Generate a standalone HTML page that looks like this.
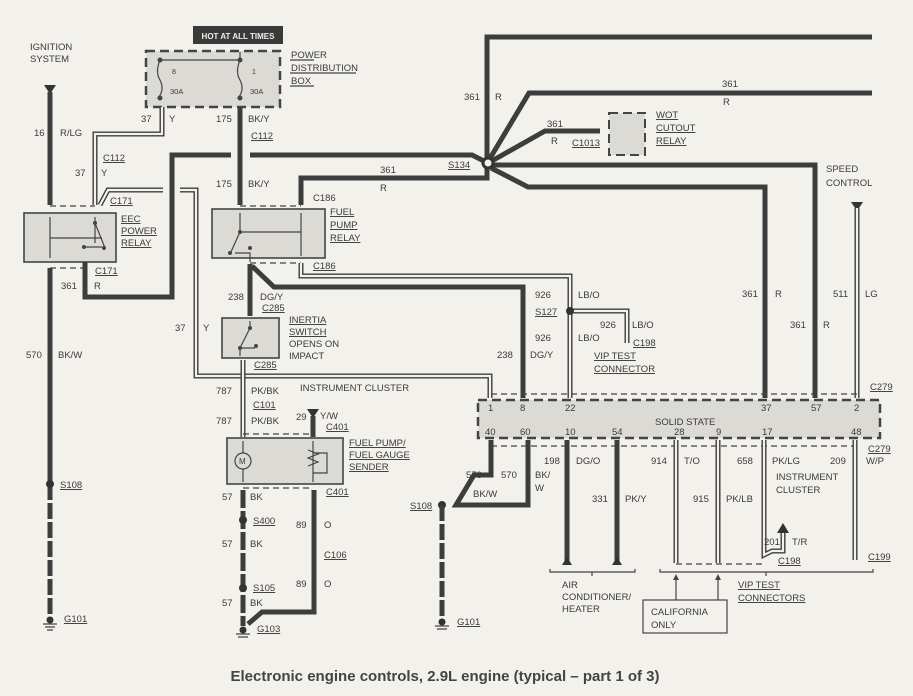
<!DOCTYPE html>
<html><head><meta charset="utf-8"><style>
html,body{margin:0;padding:0;background:#f3f1ec;}
svg{display:block}
text{font-family:"Liberation Sans",sans-serif;font-size:9.5px;fill:#3a3a3a;}
.w{fill:none;stroke:#3d3d3d;stroke-width:5;stroke-linejoin:miter}
.t{fill:none;stroke:#3d3d3d;stroke-width:5}
.ti{fill:none;stroke:#f3f1ec;stroke-width:2.2}
.ln{fill:none;stroke:#444;stroke-width:1.2}
.dash{fill:none;stroke:#444;stroke-width:1.2;stroke-dasharray:6 4}
.box{fill:#dcdad5;stroke:#444;stroke-width:1.6}
.dbox{fill:#dcdad5;stroke:#444;stroke-width:2.5;stroke-dasharray:9 5}
.u{text-decoration:underline}
</style></head><body>
<svg width="913" height="696" viewBox="0 0 913 696" xmlns="http://www.w3.org/2000/svg">
<rect x="193" y="26" width="90" height="18" fill="#3a3a3a"/>
<text x="238" y="39" text-anchor="middle" style="fill:#eee;font-size:8px;font-weight:bold">HOT AT ALL TIMES</text>
<rect class="dbox" x="146" y="51" width="134" height="56"/>
<path class="ln" d="M160 60 L240 60 M160 60 q-5 12 0 20 q5 10 -2 18 L160 100 M240 52 L240 60 q-5 12 0 20 q5 10 -2 18 L240 100"/>
<circle cx="160" cy="60" r="2.5" fill="#444"/><circle cx="240" cy="60" r="2.5" fill="#444"/>
<circle cx="160" cy="98" r="2.5" fill="#444"/><circle cx="240" cy="98" r="2.5" fill="#444"/>
<text x="172" y="74" style="font-size:7px">8</text><text x="252" y="74" style="font-size:7px">1</text>
<text x="170" y="94" style="font-size:7.5px">30A</text><text x="250" y="94" style="font-size:7.5px">30A</text>
<text x="291" y="58">POWER</text><text x="291" y="71">DISTRIBUTION</text><text x="291" y="84">BOX</text>
<path class="ln" d="M290 60h24 M290 73h66 M290 86h24"/>
<text x="30" y="50">IGNITION</text><text x="30" y="62">SYSTEM</text>

<path d="M44 85h12l-6 9z" fill="#333"/>
<path class="w" d="M50 92V205"/>
<text x="34" y="136">16</text><text x="60" y="136">R/LG</text>
<path class="t" d="M162 107V134H95V205"/><path class="ti" d="M162 107V134H95V205"/>
<text x="141" y="122">37</text><text x="169" y="122">Y</text>
<text x="103" y="161" class="u">C112</text>
<text x="75" y="176">37</text><text x="101" y="176">Y</text>
<path class="t" d="M100 205L108 190H163"/><path class="ti" d="M100 205L108 190H163"/>
<path class="t" d="M180 190H196V376H490V398"/><path class="ti" d="M180 190H196V376H490V398"/>
<text x="175" y="331">37</text><text x="203" y="331">Y</text>
<text x="300" y="391">INSTRUMENT CLUSTER</text>
<path class="dash" d="M50 206H95"/>
<rect class="box" x="24" y="213" width="92" height="49"/>
<path class="ln" d="M50 217V258 M95 217V243 M50 238h52 M95 223l10 25 M82 247h20"/>
<circle cx="95" cy="223" r="2" fill="#444"/><circle cx="104" cy="248" r="2" fill="#444"/><circle cx="84" cy="247" r="2" fill="#444"/>
<text x="110" y="204" class="u">C171</text>
<text x="121" y="222" class="u">EEC</text><text x="121" y="234" class="u">POWER</text><text x="121" y="246" class="u">RELAY</text>
<path class="dash" d="M50 268H85"/>
<text x="95" y="274" class="u">C171</text>
<path class="w" d="M50 268V484"/>
<path class="w" d="M50 484V618" stroke-dasharray="16 3"/>
<circle cx="50" cy="484" r="4" fill="#333"/>
<text x="60" y="488" class="u">S108</text>
<path class="ln" d="M43 624h14M45 627h10M47 630h6"/><circle cx="50" cy="620" r="3.5" fill="#333"/>
<text x="64" y="622" class="u">G101</text>
<text x="26" y="358">570</text><text x="58" y="358">BK/W</text>
<path class="w" d="M85 262V297H172V155H231 M250 155H472L486 162"/>
<text x="61" y="289">361</text><text x="94" y="289">R</text>
<path class="w" d="M240 107V205"/>
<text x="216" y="122">175</text><text x="248" y="122">BK/Y</text>
<text x="251" y="139" class="u">C112</text>
<text x="216" y="187">175</text><text x="248" y="187">BK/Y</text>
<path class="w" d="M301 205V178H487V165"/>
<text x="380" y="173">361</text><text x="380" y="191">R</text>
<text x="313" y="201">C186</text>
<path class="dash" d="M240 206H301"/>
<rect class="box" x="212" y="209" width="113" height="49"/>
<path class="ln" d="M240 213V232l-10 22 M240 232h61 M301 213V256 M235 253h15V262"/>
<circle cx="240" cy="232" r="2" fill="#444"/><circle cx="230" cy="253" r="2" fill="#444"/><circle cx="250" cy="248" r="2" fill="#444"/>
<text x="330" y="215" class="u">FUEL</text><text x="330" y="228" class="u">PUMP</text><text x="330" y="241" class="u">RELAY</text>
<path class="dash" d="M250 263H301"/>
<text x="313" y="269" class="u">C186</text>
<path class="w" d="M250 264V316 M252 266L274 287H523V398"/>
<path class="t" d="M301 263V276H570V398"/><path class="ti" d="M301 263V276H570V398"/>
<path class="t" d="M570 311H627V343"/><path class="ti" d="M570 311H627V343"/>
<circle cx="570" cy="311" r="4" fill="#333"/>
<text x="228" y="300">238</text><text x="260" y="300">DG/Y</text>
<text x="262" y="311" class="u">C285</text>
<text x="535" y="298">926</text><text x="578" y="298">LB/O</text>
<text x="535" y="315" class="u">S127</text>
<text x="600" y="328">926</text><text x="632" y="328">LB/O</text>
<text x="535" y="341">926</text><text x="578" y="341">LB/O</text>
<text x="633" y="346" class="u">C198</text>
<text x="594" y="359" class="u">VIP TEST</text><text x="594" y="372" class="u">CONNECTOR</text>
<text x="497" y="358">238</text><text x="530" y="358">DG/Y</text>
<rect class="box" x="222" y="318" width="57" height="40"/>
<path class="ln" d="M250 321V328l-10 20V356 M240 348h15"/>
<circle cx="250" cy="328" r="2" fill="#444"/><circle cx="240" cy="348" r="2" fill="#444"/><circle cx="256" cy="346" r="2" fill="#444"/>
<text x="289" y="323" class="u">INERTIA</text><text x="289" y="335" class="u">SWITCH</text><text x="289" y="347">OPENS ON</text><text x="289" y="359">IMPACT</text>
<text x="254" y="368" class="u">C285</text>
<path class="t" d="M243 360V437"/><path class="ti" d="M243 360V437"/>
<text x="216" y="394">787</text><text x="251" y="394">PK/BK</text>
<text x="253" y="408" class="u">C101</text>
<text x="216" y="424">787</text><text x="251" y="424">PK/BK</text>
<path d="M307 409h12l-6 9z" fill="#333"/><path class="w" d="M313 416V437"/>
<text x="296" y="420">29</text><text x="320" y="419">Y/W</text><text x="326" y="430" class="u">C401</text>
<path class="dash" d="M243 434H313"/>
<rect class="box" x="227" y="438" width="116" height="46"/>
<circle cx="243" cy="461" r="8" fill="none" stroke="#444" stroke-width="1.2"/><text x="239" y="464" style="font-size:8px">M</text>
<path class="ln" d="M243 441V453 M243 469V482 M313 441V482 M308 450l10 4-10 4 10 4-10 4 M313 453h14v20h-14"/>
<text x="349" y="446" class="u">FUEL PUMP/</text><text x="349" y="458" class="u">FUEL GAUGE</text><text x="349" y="470" class="u">SENDER</text>
<path class="dash" d="M243 488H313"/>
<text x="326" y="495" class="u">C401</text>
<path class="w" d="M243 490V626" stroke-dasharray="18 3"/>
<circle cx="243" cy="520" r="4" fill="#333"/><circle cx="243" cy="588" r="4" fill="#333"/>
<path class="w" d="M314 490V612H262L248 624"/>
<text x="222" y="500">57</text><text x="250" y="500">BK</text>
<text x="253" y="524" class="u">S400</text>
<text x="222" y="547">57</text><text x="250" y="547">BK</text>
<text x="296" y="528">89</text><text x="324" y="528">O</text>
<text x="324" y="558" class="u">C106</text>
<text x="296" y="587">89</text><text x="324" y="587">O</text>
<text x="253" y="591" class="u">S105</text>
<text x="222" y="606">57</text><text x="250" y="606">BK</text>
<path class="ln" d="M236 634h14M238 637h10"/><circle cx="243" cy="630" r="3.5" fill="#333"/>
<text x="257" y="632" class="u">G103</text>
<path class="w" d="M487 160V37H872 M489 160L529 93H872 M490 162L545 131H600 M492 165H815V398 M491 168L528 187H765V398"/>
<circle cx="488" cy="163" r="5" fill="#f3f1ec" stroke="#333" stroke-width="3"/>
<text x="448" y="168" class="u">S134</text>
<text x="464" y="100">361</text><text x="495" y="100">R</text>
<text x="722" y="87">361</text><text x="723" y="105">R</text>
<text x="547" y="127">361</text><text x="551" y="144">R</text>
<text x="572" y="146" class="u">C1013</text>
<rect class="dbox" x="609" y="113" width="36" height="42" style="stroke-width:2"/>
<text x="656" y="118" class="u">WOT</text><text x="656" y="131" class="u">CUTOUT</text><text x="656" y="144" class="u">RELAY</text>
<text x="826" y="172">SPEED</text><text x="826" y="186">CONTROL</text>
<path d="M851 202h12l-6 9z" fill="#333"/>
<path class="t" d="M857 208V398"/><path class="ti" d="M857 208V398"/>
<text x="742" y="297">361</text><text x="775" y="297">R</text>
<text x="790" y="328">361</text><text x="823" y="328">R</text>
<text x="833" y="297">511</text><text x="865" y="297">LG</text>
<text x="870" y="390" class="u">C279</text>
<path class="dash" d="M491 394H857"/>
<rect class="dbox" x="478" y="400" width="402" height="38"/>
<g style="font-size:8px">
<text x="488" y="411">1</text><text x="520" y="411">8</text><text x="565" y="411">22</text><text x="761" y="411">37</text><text x="811" y="411">57</text><text x="854" y="411">2</text>
<text x="485" y="435">40</text><text x="520" y="435">60</text><text x="565" y="435">10</text><text x="612" y="435">54</text><text x="674" y="435">28</text><text x="716" y="435">9</text><text x="762" y="435">17</text><text x="851" y="435">48</text>
</g>
<text x="655" y="425">SOLID STATE</text>
<path class="dash" d="M491 446H857"/>
<text x="868" y="452" class="u">C279</text>
<path class="w" d="M491 440V475H474L456 505H528V440"/>
<circle cx="442" cy="505" r="4" fill="#333"/>
<path class="w" d="M442 505V622" stroke-dasharray="16 3"/>
<text x="410" y="509" class="u">S108</text>
<path class="ln" d="M435 626h14M437 629h10"/><circle cx="442" cy="622" r="3.5" fill="#333"/>
<text x="457" y="625" class="u">G101</text>
<text x="466" y="478">570</text><text x="473" y="497">BK/W</text>
<text x="501" y="478">570</text><text x="535" y="478">BK/</text><text x="535" y="491">W</text>
<path class="w" d="M567 440V562 M617 440V562"/>
<path d="M562 565h10l-5-8z M612 565h10l-5-8z" fill="#333"/>
<text x="544" y="464">198</text><text x="576" y="464">DG/O</text>
<text x="592" y="502">331</text><text x="625" y="502">PK/Y</text>
<path class="t" d="M676 440V563 M718 440V563 M764 440V555l8 -4H783V532 M855 440V560"/>
<path class="ti" d="M676 440V563 M718 440V563 M764 440V555l8 -4H783V532 M855 440V560"/>
<path d="M777 533h12l-6 -10z" fill="#333"/>
<path class="dash" d="M676 564H765"/>
<text x="651" y="464">914</text><text x="684" y="464">T/O</text>
<text x="693" y="502">915</text><text x="726" y="502">PK/LB</text>
<text x="737" y="464">658</text><text x="772" y="464">PK/LG</text>
<text x="776" y="480">INSTRUMENT</text><text x="776" y="493">CLUSTER</text>
<text x="830" y="464">209</text><text x="866" y="464">W/P</text>
<text x="764" y="545">201</text><text x="792" y="545">T/R</text>
<text x="778" y="564" class="u">C198</text>
<text x="868" y="560" class="u">C199</text>
<path class="ln" d="M550 569v3H635v-3 M592 572v4 M660 569v3H873v-3 M766 572v4"/>
<text x="562" y="588">AIR</text><text x="562" y="600">CONDITIONER/</text><text x="562" y="612">HEATER</text>
<text x="738" y="588" class="u">VIP TEST</text><text x="738" y="601" class="u">CONNECTORS</text>
<rect x="643" y="600" width="84" height="33" fill="none" stroke="#444" stroke-width="1.2"/>
<text x="651" y="615">CALIFORNIA</text><text x="651" y="628">ONLY</text>
<path class="ln" d="M676 600V577 M718 600V577"/>
<path d="M673 580l3 -6 3 6z M715 580l3 -6 3 6z" fill="#444"/>
<text x="445" y="681" text-anchor="middle" style="font-size:15px;font-weight:bold;fill:#444">Electronic engine controls, 2.9L engine (typical – part 1 of 3)</text>
</svg>
</body></html>
